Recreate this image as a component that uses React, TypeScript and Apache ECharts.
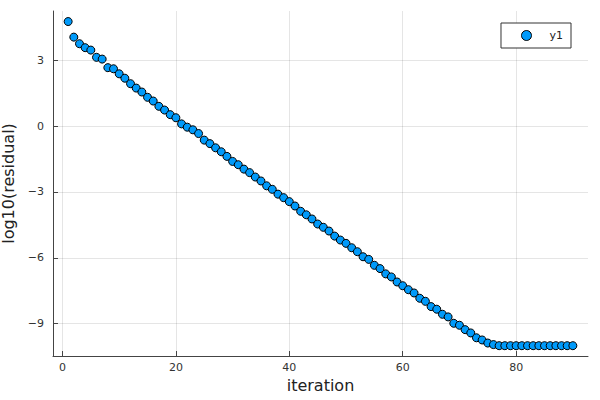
import React, { useEffect, useRef } from "react";
import * as echarts from "echarts";

const iterations: number[] = Array.from({ length: 90 }, (_, i) => i + 1);
const residualLog10: number[] = [
  4.76, 4.05, 3.75, 3.57, 3.46, 3.13, 3.05, 2.66, 2.61, 2.38,
  2.18, 1.93, 1.73, 1.55, 1.31, 1.14, 0.9, 0.73, 0.52, 0.38,
  0.1, -0.05, -0.17, -0.34, -0.64, -0.8, -0.99, -1.17, -1.38, -1.61,
  -1.76, -1.96, -2.12, -2.32, -2.5, -2.72, -2.88, -3.1, -3.26, -3.44,
  -3.64, -3.88, -4.04, -4.23, -4.46, -4.61, -4.78, -5.01, -5.19, -5.34,
  -5.54, -5.72, -5.95, -6.07, -6.34, -6.49, -6.73, -6.87, -7.1, -7.27,
  -7.45, -7.6, -7.84, -7.98, -8.22, -8.34, -8.57, -8.69, -8.98, -9.07,
  -9.27, -9.42, -9.64, -9.74, -9.88, -9.95, -10.0, -10.0, -10.0, -10.0,
  -10.0, -10.0, -10.0, -10.0, -10.0, -10.0, -10.0, -10.0, -10.0, -10.0,
];
const xTicks: number[] = [0, 20, 40, 60, 80];
const yTicks: number[] = [-9, -6, -3, 0, 3];
const seriesName = "y1";

const FONT = "DejaVu Sans";

export default function App() {
  const ref = useRef<HTMLDivElement>(null);
  useEffect(() => {
    if (!ref.current) return;
    const chart = echarts.init(ref.current, null, { renderer: "svg" });
    const xMin = 1 - 0.03 * 89;
    const xMax = 90 + 0.03 * 89;
    const yMin = -10.47;
    const yMax = 5.24;
    const fmt = (v: number) => (v < 0 ? "\u2212" + Math.abs(v) : String(v));
    chart.setOption({
      animation: false,
      backgroundColor: "#ffffff",
      textStyle: { fontFamily: FONT },
      grid: { left: 53, right: 12, top: 11, bottom: 44, containLabel: false, outerBoundsMode: "none" },
      legend: {
        right: 29,
        top: 23,
        orient: "vertical",
        backgroundColor: "#fff",
        borderColor: "#333",
        borderWidth: 1,
        borderRadius: 0,
        padding: [7, 8, 7, 20],
        itemWidth: 10,
        itemHeight: 10,
        itemStyle: { borderWidth: 1 },
        textStyle: { fontFamily: FONT, fontSize: 11, color: "#222", padding: [0, 0, 0, 13] },
        data: [seriesName],
      },
      xAxis: {
        type: "value",
        min: xMin,
        max: xMax,
        name: "iteration",
        nameLocation: "middle",
        nameGap: 20,
        nameTextStyle: { fontFamily: FONT, fontSize: 16, color: "#222" },
        axisLine: { show: true, onZero: false, lineStyle: { color: "#444", width: 1 } },
        axisTick: { show: true, inside: true, length: 5, customValues: xTicks, lineStyle: { color: "#444" } },
        axisLabel: { show: true, margin: 6, fontSize: 11, color: "#333", fontFamily: FONT, customValues: xTicks, formatter: fmt },
        splitLine: { show: true, lineStyle: { color: "rgba(0,0,0,0.1)", width: 1 } },
      },
      yAxis: {
        type: "value",
        min: yMin,
        max: yMax,
        name: "log10(residual)",
        nameLocation: "middle",
        nameGap: 34,
        nameTextStyle: { fontFamily: FONT, fontSize: 16, color: "#222" },
        axisLine: { show: true, onZero: false, lineStyle: { color: "#444", width: 1 } },
        axisTick: { show: true, inside: true, length: 5, customValues: yTicks, lineStyle: { color: "#444" } },
        axisLabel: { show: true, margin: 9, fontSize: 11, color: "#333", fontFamily: FONT, customValues: yTicks, formatter: fmt },
        splitLine: { show: true, lineStyle: { color: "rgba(0,0,0,0.1)", width: 1 } },
      },
      series: [
        {
          name: seriesName,
          type: "scatter",
          symbol: "circle",
          symbolSize: 8,
          itemStyle: { color: "#009AFA", borderColor: "#000", borderWidth: 1, opacity: 1 },
          data: iterations.map((x, i) => [x, residualLog10[i]]),
        },
      ],
    });
    return () => chart.dispose();
  }, []);
  return (
    <div
      ref={ref}
      style={{ position: "fixed", left: 0, top: 0, width: 600, height: 400 }}
    />
  );
}
